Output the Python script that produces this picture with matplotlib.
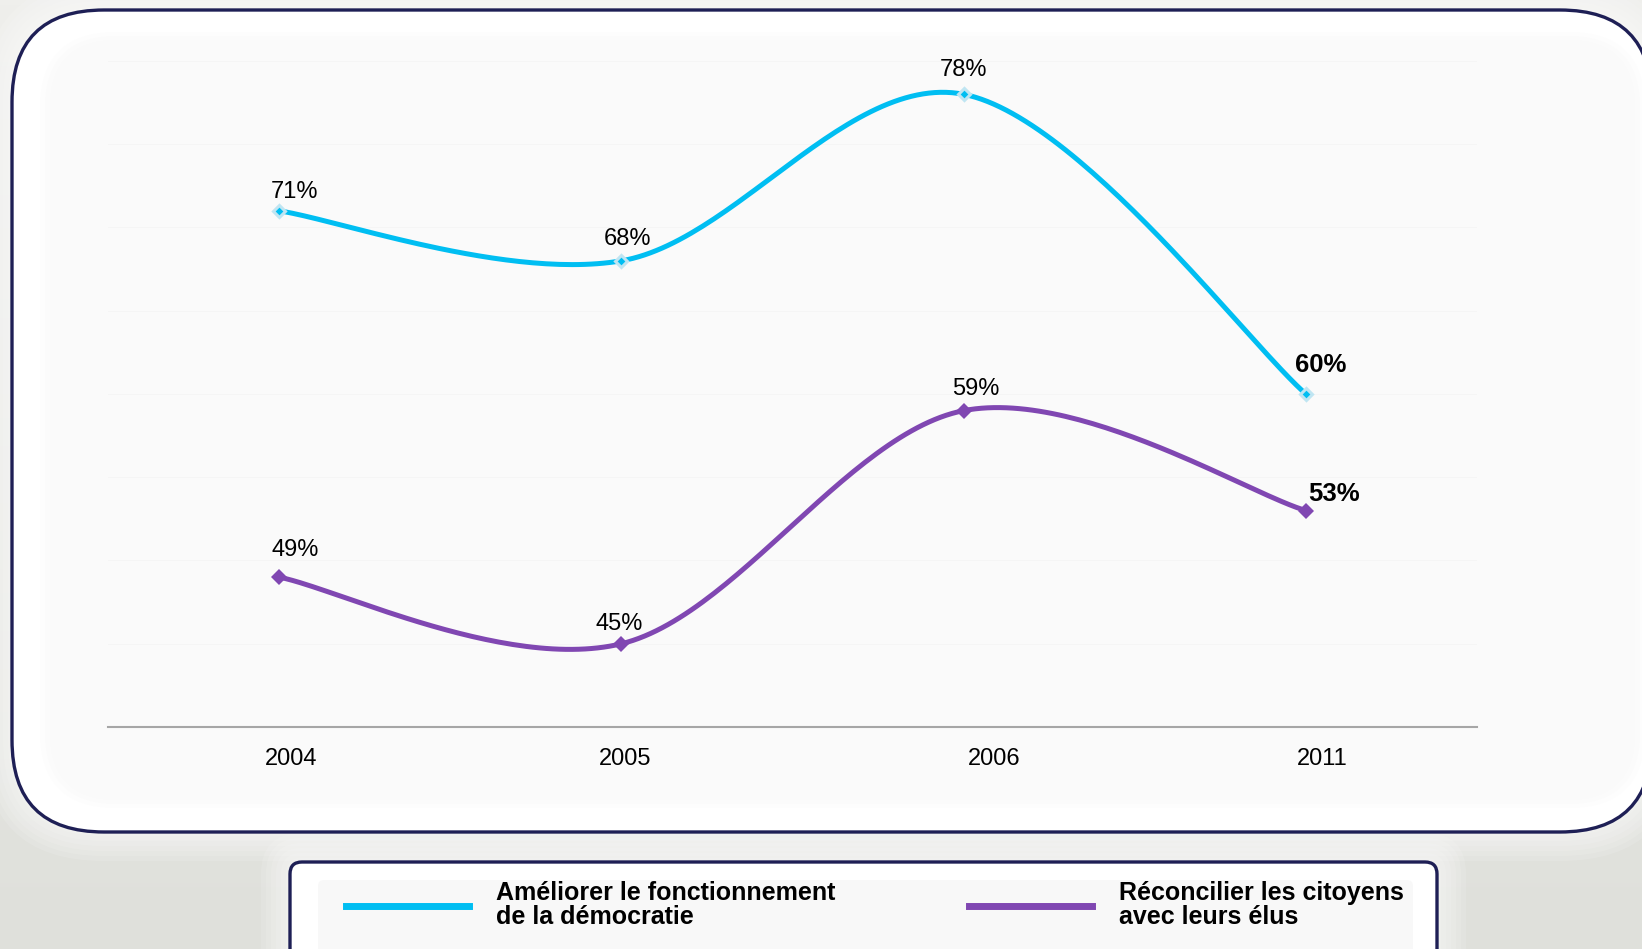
import numpy as np
import matplotlib
matplotlib.use("Agg")
import matplotlib.pyplot as plt
from matplotlib.patches import FancyBboxPatch
from matplotlib.lines import Line2D
from matplotlib.transforms import offset_copy

annees = ["2004", "2005", "2006", "2011"]
democratie = [71, 68, 78, 60]
citoyens = [49, 45, 59, 53]
noms = ["Améliorer le fonctionnement\nde la démocratie",
        "Réconcilier les citoyens\navec leurs élus"]

cyan = "#00BEF2"
violet = "#8047B2"
marine = "#1E1F55"

# decalage des etiquettes (pixels)
dec_demo = [(15, 19), (6, 22), (0, 24), (15, 29)]
dec_cit = [(16, 27), (-2, 20), (12, 22), (28, 17)]
dec_annees = [12, 4, 31, 16]

W, H = 1642, 949
plt.rcParams['font.family'] = ['Liberation Sans', 'DejaVu Sans']


def lisse(y, n=60):
    # courbe lissee type Excel (Catmull-Rom -> Bezier)
    x = np.arange(len(y), dtype=float)
    y = np.asarray(y, dtype=float)
    px = np.concatenate([[x[0]], x, [x[-1]]])
    py = np.concatenate([[y[0]], y, [y[-1]]])
    xs, ys = [], []
    t = np.linspace(0, 1, n)
    for i in range(len(y) - 1):
        p0 = np.array([px[i + 1], py[i + 1]])
        p3 = np.array([px[i + 2], py[i + 2]])
        c1 = p0 + (p3 - np.array([px[i], py[i]])) / 6
        c2 = p3 - (np.array([px[i + 3], py[i + 3]]) - p0) / 6
        b = ((1 - t) ** 3)[:, None] * p0 + (3 * (1 - t) ** 2 * t)[:, None] * c1 \
            + (3 * (1 - t) * t ** 2)[:, None] * c2 + (t ** 3)[:, None] * p3
        xs.append(b[:, 0])
        ys.append(b[:, 1])
    return np.concatenate(xs), np.concatenate(ys)


fig = plt.figure(figsize=(W / 100, H / 100), dpi=100)

# fond et cadres
bg = fig.add_axes([0, 0, 1, 1])
bg.set_xlim(0, W)
bg.set_ylim(H, 0)
bg.axis("off")
grad = np.linspace(0, 1, 200)[:, None]
bg.imshow(grad, extent=[0, W, H, 0], aspect="auto",
          cmap=matplotlib.colors.LinearSegmentedColormap.from_list("g", ["#EFEFEC", "#DFE0DB"]))

for k in range(6):
    e = 4 + k * 5
    bg.add_patch(FancyBboxPatch((12 - e, 10 - e), 1640 + 2 * e, 822 + 2 * e,
                                boxstyle="round,pad=0,rounding_size=%d" % (92 + e),
                                facecolor="white", edgecolor="none", alpha=0.12))
    bg.add_patch(FancyBboxPatch((290 - e, 862 - e), 1147 + 2 * e, 120 + 2 * e,
                                boxstyle="round,pad=0,rounding_size=%d" % (12 + e),
                                facecolor="white", edgecolor="none", alpha=0.12))

bg.add_patch(FancyBboxPatch((12, 10), 1640, 822, boxstyle="round,pad=0,rounding_size=92",
                            facecolor="white", edgecolor=marine, lw=2.4))
for k, c in enumerate(["#FDFDFD", "#FBFBFB", "#FAFAFA"]):
    bg.add_patch(FancyBboxPatch((40 + k * 5, 32 + k * 4), 1605 - k * 10, 776 - k * 8,
                                boxstyle="round,pad=0,rounding_size=%d" % (76 - k * 4),
                                facecolor=c, edgecolor="none"))
bg.add_patch(FancyBboxPatch((290, 862), 1147, 120, boxstyle="round,pad=0,rounding_size=12",
                            facecolor="white", edgecolor=marine, lw=2.4))
bg.add_patch(FancyBboxPatch((318, 880), 1095, 100, boxstyle="round,pad=0,rounding_size=6",
                            facecolor="#F8F8F8", edgecolor="none"))

# graphique
ax = fig.add_axes([108 / W, 1 - 727 / H, (1477 - 108) / W, (727 - 61) / H])
ax.set_facecolor("none")
ax.set_xlim(-0.5, 3.5)
ax.set_ylim(40, 80)
for s in ["top", "left", "right"]:
    ax.spines[s].set_visible(False)
ax.spines["bottom"].set_color("#A6A6A6")
ax.spines["bottom"].set_linewidth(1.5)
ax.set_yticks([])
for g in range(45, 81, 5):
    ax.axhline(g, color="#F5F5F5", lw=0.7, zorder=0)
x = np.arange(len(annees))
ax.set_xticks(x)
ax.set_xticklabels(annees, fontsize=17)
ax.tick_params(axis="x", length=0, pad=15)
for lab, d in zip(ax.get_xticklabels(), dec_annees):
    lab.set_transform(offset_copy(lab.get_transform(), fig=fig, x=d, y=0, units="dots"))

xs, ys = lisse(democratie)
ax.plot(xs, ys, color=cyan, lw=3.6, solid_capstyle="round", zorder=3)
ax.plot(x, democratie, ls="none", marker="D", ms=6.5, mfc=cyan, mec="#BFE5F2", mew=2.2, zorder=4)
xs, ys = lisse(citoyens)
ax.plot(xs, ys, color=violet, lw=3.6, solid_capstyle="round", zorder=3)
ax.plot(x, citoyens, ls="none", marker="D", ms=8, mfc=violet, mec=violet, mew=0, zorder=4)

for serie, dec in [(democratie, dec_demo), (citoyens, dec_cit)]:
    for i, v in enumerate(serie):
        dernier = i == len(serie) - 1
        ax.annotate("%d%%" % v, (x[i], v), xytext=dec[i], textcoords="offset pixels",
                    ha="center", va="center", fontsize=18.5 if dernier else 17,
                    fontweight="bold" if dernier else "normal", color="black", zorder=5)

poignees = [Line2D([], [], color=cyan, lw=5), Line2D([], [], color=violet, lw=5)]
leg = fig.legend(poignees, noms, loc="center left", bbox_to_anchor=(346, 905),
                 bbox_transform=bg.transData, ncol=2, frameon=False,
                 prop={"size": 18, "weight": "bold"}, handlelength=4.9,
                 handletextpad=1.1, columnspacing=5.35, borderpad=0, borderaxespad=0)
for t in leg.get_texts():
    t.set_linespacing(0.95)

fig.savefig("out.png", dpi=100)
